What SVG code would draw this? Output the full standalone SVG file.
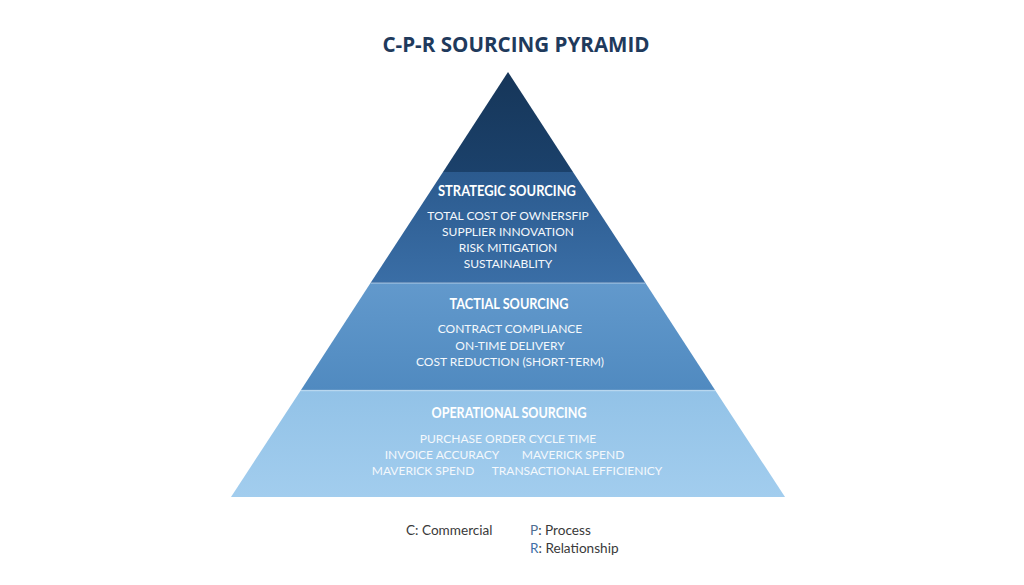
<svg xmlns="http://www.w3.org/2000/svg" width="1024" height="585" viewBox="0 0 1024 585">
  <defs>
    <linearGradient id="gTop" x1="0" y1="0" x2="0" y2="1">
      <stop offset="0" stop-color="#163659"/>
      <stop offset="1" stop-color="#1b416b"/>
    </linearGradient>
    <linearGradient id="gStr" x1="0" y1="0" x2="0" y2="1">
      <stop offset="0" stop-color="#2b5a8e"/>
      <stop offset="1" stop-color="#3a6ea6"/>
    </linearGradient>
    <linearGradient id="gTac" x1="0" y1="0" x2="0" y2="1">
      <stop offset="0" stop-color="#6299cc"/>
      <stop offset="1" stop-color="#508ac0"/>
    </linearGradient>
    <linearGradient id="gOp" x1="0" y1="0" x2="0" y2="1">
      <stop offset="0" stop-color="#92c2e7"/>
      <stop offset="1" stop-color="#a2cdee"/>
    </linearGradient>
    <style>
      .title { font-family: "Open Sans", "Liberation Sans", sans-serif; font-weight: 700; font-size: 20.6px; fill: #1f3a5c; text-anchor: middle; }
      .head { font-family: "Lato", "Open Sans", sans-serif; font-weight: 700; font-size: 15px; fill: #ffffff; text-anchor: middle; }
      .item { font-family: "Lato", "Open Sans", sans-serif; font-size: 12px; fill: #f4f8fc; text-anchor: middle; }
      .legend { font-family: "Lato", "Open Sans", sans-serif; font-size: 13.6px; fill: #3a3a3a; }
      .sep { stroke: #ffffff; stroke-opacity: 0.35; stroke-width: 1.5; }
    </style>
  </defs>
  <rect width="1024" height="585" fill="#ffffff"/>
  <text class="title" x="516" y="52">C-P-R SOURCING PYRAMID</text>

  <g id="apex">
    <polygon points="508,72 573,172 443,172" fill="url(#gTop)"/>
  </g>
  <g id="strategic">
    <polygon points="443,172 573,172 645.5,283 370.5,283" fill="url(#gStr)"/>
    <text class="head" x="507" y="196" textLength="138" lengthAdjust="spacingAndGlyphs">STRATEGIC SOURCING</text>
    <text class="item" x="508" y="220">TOTAL COST OF OWNERSFIP</text>
    <text class="item" x="508" y="236">SUPPLIER INNOVATION</text>
    <text class="item" x="508" y="252">RISK MITIGATION</text>
    <text class="item" x="508" y="268">SUSTAINABLITY</text>
  </g>
  <g id="tactical">
    <polygon points="370.5,283 645.5,283 715,390 301,390" fill="url(#gTac)"/>
    <text class="head" x="509" y="309" textLength="119" lengthAdjust="spacingAndGlyphs">TACTIAL SOURCING</text>
    <text class="item" x="510" y="333">CONTRACT COMPLIANCE</text>
    <text class="item" x="510" y="350">ON-TIME DELIVERY</text>
    <text class="item" x="510" y="366">COST REDUCTION (SHORT-TERM)</text>
  </g>
  <g id="operational">
    <polygon points="301,390 715,390 785,497 231,497" fill="url(#gOp)"/>
    <text class="head" x="509" y="418" textLength="155" lengthAdjust="spacingAndGlyphs">OPERATIONAL SOURCING</text>
    <text class="item" x="508" y="443">PURCHASE ORDER CYCLE TIME</text>
    <text class="item" x="442" y="459">INVOICE ACCURACY</text>
    <text class="item" x="573" y="459">MAVERICK SPEND</text>
    <text class="item" x="423" y="475">MAVERICK SPEND</text>
    <text class="item" x="577" y="475">TRANSACTIONAL EFFICIENICY</text>
  </g>
  <g id="connectors">
    <line class="sep" x1="371" y1="283" x2="645" y2="283"/>
    <line class="sep" x1="301" y1="390.5" x2="715" y2="390.5"/>
  </g>
  <g id="legend">
    <text class="legend" x="406" y="535">C: Commercial</text>
    <text class="legend" x="530" y="535"><tspan fill="#4f6f92">P</tspan>: Process</text>
    <text class="legend" x="530" y="553"><tspan fill="#3f6fa8">R</tspan>: Relationship</text>
  </g>
</svg>
